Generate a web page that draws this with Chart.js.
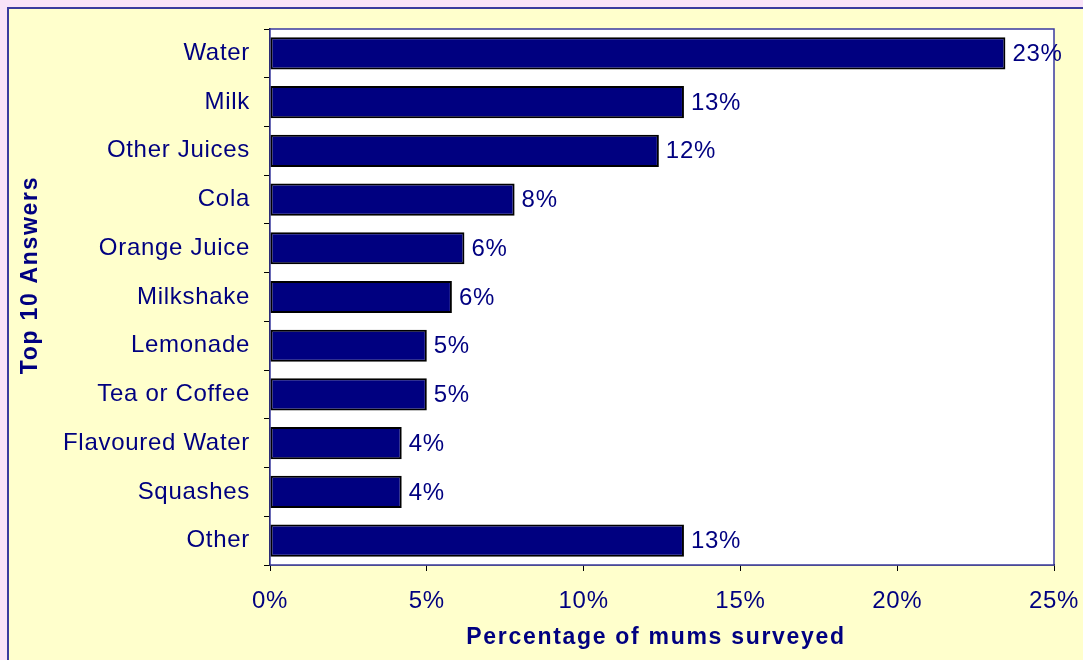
<!DOCTYPE html>
<html>
<head>
<meta charset="utf-8">
<title>Top 10 Answers</title>
<script src="https://cdn.jsdelivr.net/npm/chart.js@4.4.1/dist/chart.umd.min.js"></script>
<style>
    html, body { margin: 0; padding: 0; width: 1083px; height: 660px; overflow: hidden; background: #f8e2f8; }
    #frame { position: absolute; left: 7px; top: 7px; width: 1100px; height: 700px; background: #ffffcc; border: 2px solid #3a3a9e; }
    #chartBox { position: absolute; left: 0; top: 0; width: 1083px; height: 660px; }
</style>
</head>
<body>
<div id="frame"></div>
<div id="chartBox"><canvas id="drinksChart"></canvas></div>
<script>
// Answers and share of mums (%)
const categories = ['Water', 'Milk', 'Other Juices', 'Cola', 'Orange Juice', 'Milkshake',
    'Lemonade', 'Tea or Coffee', 'Flavoured Water', 'Squashes', 'Other'];
const shares = [23.45, 13.2, 12.4, 7.8, 6.2, 5.8, 5.0, 5.0, 4.2, 4.2, 13.2];
const xTicks = [0, 5, 10, 15, 20, 25];
const xTitle = 'Percentage of mums surveyed';
const yTitle = 'Top 10 Answers';

const NAVY = '#000080';
const FONT = 'Arial, "Liberation Sans", sans-serif';

// Helper: white plot area with blue frame, slightly wider lettering
const plotFrame = {
    id: 'plotFrame',
    beforeDraw(chart) {
        chart.ctx.letterSpacing = '0.7px';
    },
    beforeDatasetsDraw(chart) {
        const { ctx, chartArea: a } = chart;
        ctx.save();
        ctx.fillStyle = '#ffffff';
        ctx.fillRect(a.left, a.top, a.right - a.left, a.bottom - a.top);
        ctx.strokeStyle = '#3a3a9e';
        ctx.lineWidth = 1.5;
        ctx.strokeRect(a.left, a.top, a.right - a.left, a.bottom - a.top);
        ctx.restore();
    }
};

// Helper: value labels at the end of each bar
const barLabels = {
    id: 'barLabels',
    afterDatasetsDraw(chart) {
        const { ctx } = chart;
        const meta = chart.getDatasetMeta(0);
        ctx.save();
        ctx.fillStyle = NAVY;
        ctx.font = `24px ${FONT}`;
        ctx.textAlign = 'left';
        ctx.textBaseline = 'middle';
        meta.data.forEach((bar, i) => {
            ctx.fillText(Math.round(shares[i]) + '%', bar.x + 7, bar.y + 1);
        });
        ctx.restore();
    }
};

// Helper: axis titles (spaced bold lettering)
const axisTitles = {
    id: 'axisTitles',
    afterDraw(chart) {
        const { ctx, chartArea: a } = chart;
        ctx.save();
        ctx.fillStyle = NAVY;
        ctx.font = `bold 23px ${FONT}`;
        ctx.letterSpacing = '1.7px';
        ctx.textAlign = 'center';
        ctx.textBaseline = 'middle';
        ctx.fillText(xTitle, (a.left + a.right) / 2 - 6, 638);
        ctx.translate(31, 275);
        ctx.rotate(-Math.PI / 2);
        ctx.fillText(yTitle, 0, 0);
        ctx.restore();
    }
};

new Chart(document.getElementById('drinksChart'), {
    type: 'bar',
    data: {
        labels: categories,
        datasets: [{
            data: shares,
            backgroundColor: NAVY,
            borderColor: '#000000',
            borderWidth: 2,
            borderSkipped: false,
            categoryPercentage: 1,
            barPercentage: 0.66
        }]
    },
    options: {
        indexAxis: 'y',
        responsive: true,
        maintainAspectRatio: false,
        animation: false,
        layout: { padding: { top: 29, right: 29, left: 0, bottom: 0 } },
        plugins: {
            legend: { display: false },
            tooltip: { enabled: false }
        },
        scales: {
            x: {
                min: 0,
                max: 25,
                afterBuildTicks: scale => { scale.ticks = xTicks.map(v => ({ value: v })); },
                afterFit: scale => {
                    scale.height = 95;
                    scale.paddingLeft = 0;
                    scale.paddingRight = 0;
                },
                grid: { drawOnChartArea: false, drawTicks: true, tickLength: 6, color: '#000000' },
                border: { display: true, color: '#000000', width: 1.5 },
                ticks: {
                    color: NAVY,
                    padding: 16,
                    maxRotation: 0,
                    font: { family: FONT, size: 24 },
                    callback: v => v + '%'
                }
            },
            y: {
                afterFit: scale => {
                    scale.width = 270;
                    scale.paddingTop = 0;
                    scale.paddingBottom = 0;
                },
                grid: { drawOnChartArea: false, drawTicks: true, tickLength: 6, color: '#000000', offset: true },
                border: { display: true, color: '#000000', width: 1.5 },
                ticks: {
                    color: NAVY,
                    padding: 14,
                    autoSkip: false,
                    font: { family: FONT, size: 24 }
                }
            }
        }
    },
    plugins: [plotFrame, barLabels, axisTitles]
});
</script>
</body>
</html>
